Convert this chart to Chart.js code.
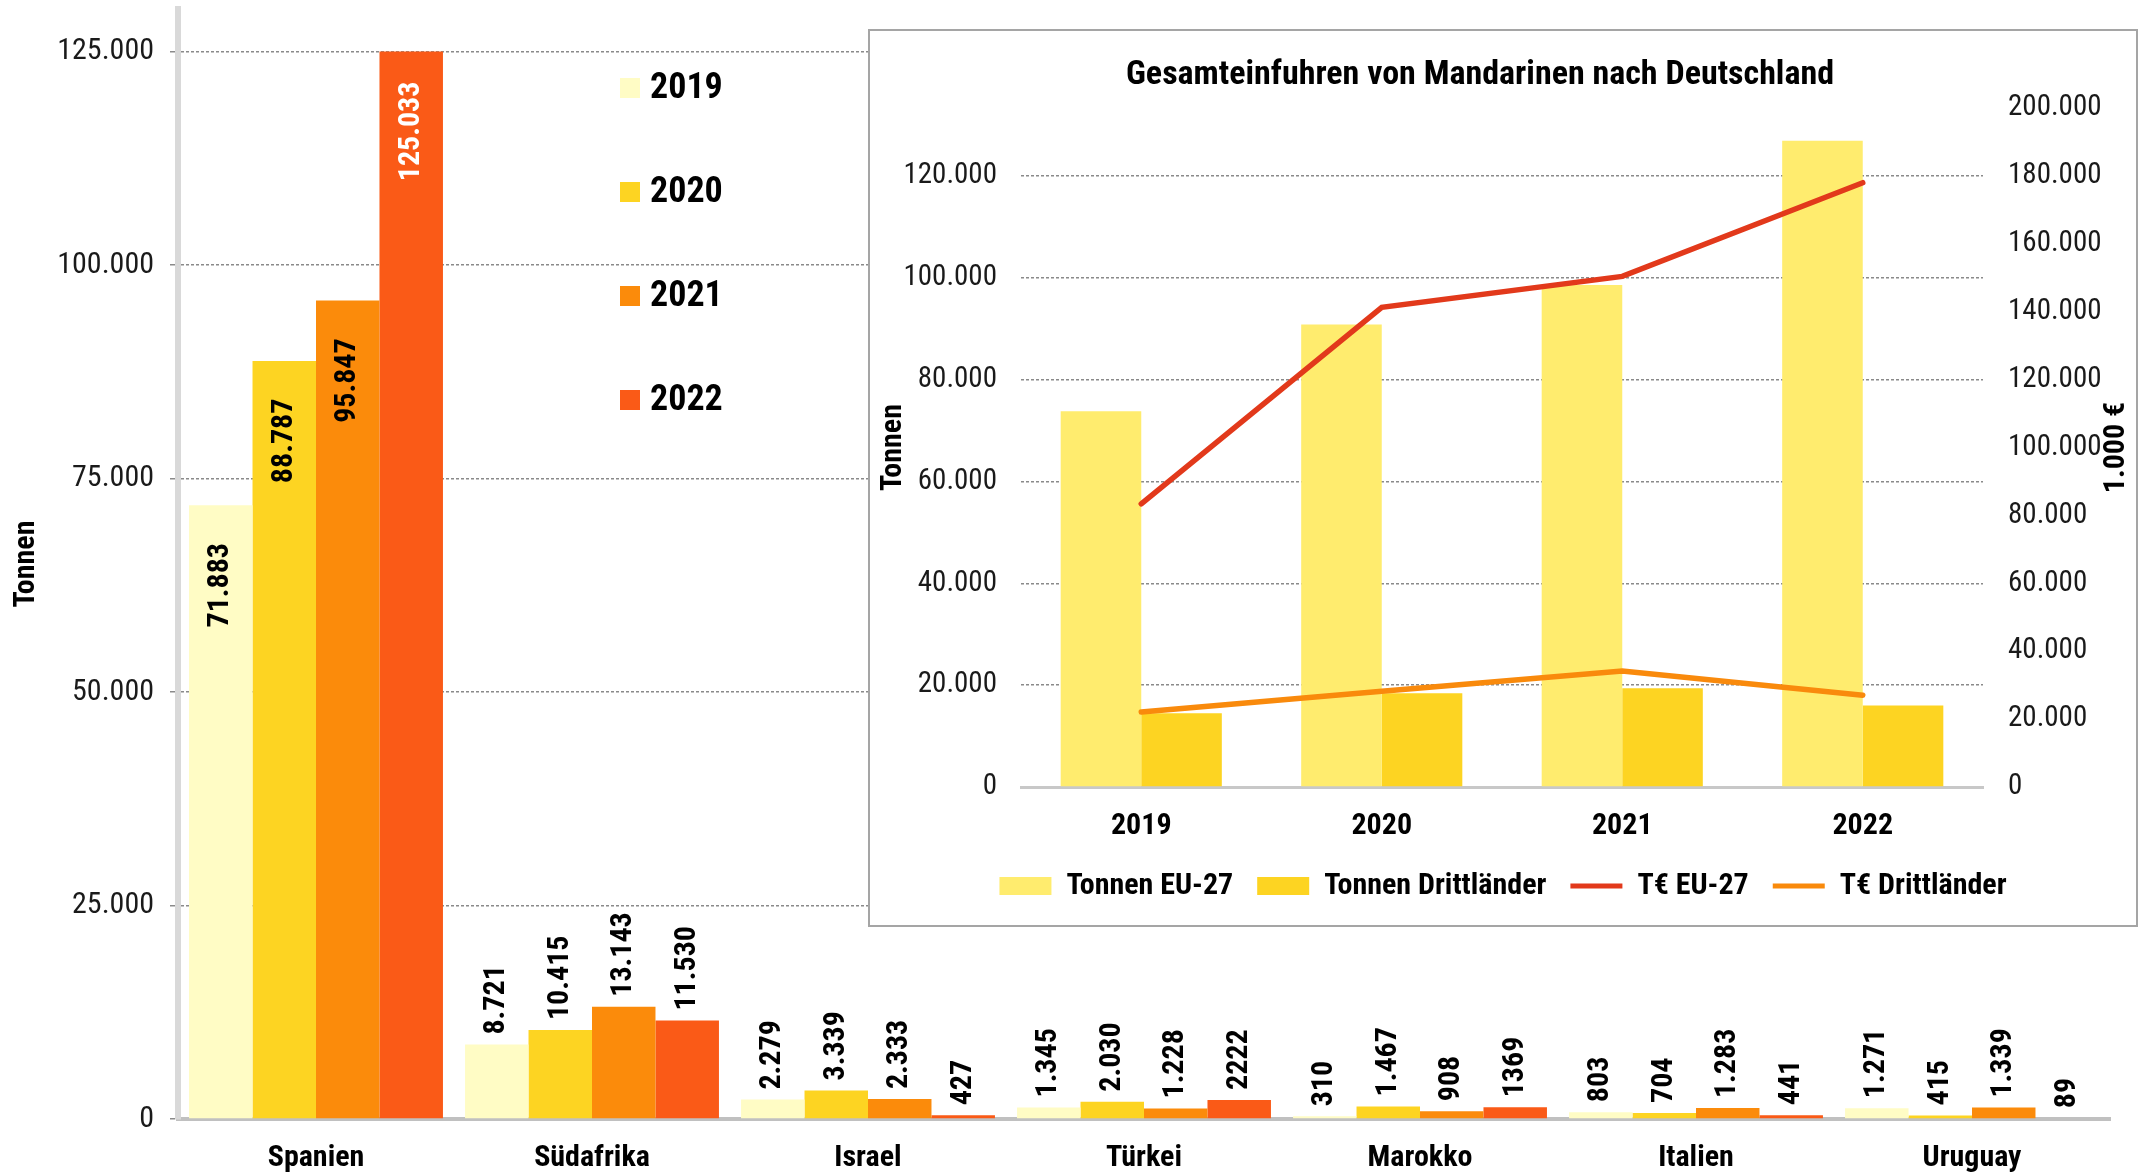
<!DOCTYPE html>
<html><head><meta charset="utf-8">
<script src="https://cdn.jsdelivr.net/npm/chart.js@4"></script>
<style>
html,body{margin:0;padding:0;background:#fff;width:2138px;height:1175px;overflow:hidden;}
#main{position:absolute;left:0;top:0;}
#insetBox{position:absolute;left:868px;top:29px;width:1266px;height:894px;border:2px solid #A5A5A5;background:#fff;}
#inset{display:block;}
</style></head><body>
<canvas id="main" width="2138" height="1175"></canvas>
<div id="insetBox"><canvas id="inset" width="1266" height="894"></canvas></div>
<script>
// ---------- data: main chart ----------
const countries = ['Spanien', 'Südafrika', 'Israel', 'Türkei', 'Marokko', 'Italien', 'Uruguay'];
const years = ['2019', '2020', '2021', '2022'];
const t2019 = [71883, 8721, 2279, 1345, 310, 803, 1271];
const t2020 = [88787, 10415, 3339, 2030, 1467, 704, 415];
const t2021 = [95847, 13143, 2333, 1228, 908, 1283, 1339];
const t2022 = [125033, 11530, 427, 2222, 1369, 441, 89];
const lbl2019 = ['71.883', '8.721', '2.279', '1.345', '310', '803', '1.271'];
const lbl2020 = ['88.787', '10.415', '3.339', '2.030', '1.467', '704', '415'];
const lbl2021 = ['95.847', '13.143', '2.333', '1.228', '908', '1.283', '1.339'];
const lbl2022 = ['125.033', '11.530', '427', '2222', '1369', '441', '89'];
const mainTicks = [0, 25000, 50000, 75000, 100000, 125000];

// ---------- data: inset chart ----------
const insetTitle = 'Gesamteinfuhren von Mandarinen nach Deutschland';
const insetYears = ['2019', '2020', '2021', '2022'];
const tonnenEU = [73800, 90800, 98600, 126900];
const tonnenDritt = [14500, 18400, 19400, 16000];
const euroEU = [83400, 141300, 150400, 178000];
const euroDritt = [22100, 28200, 34200, 27000];
const insetLeftTicks = [0, 20000, 40000, 60000, 80000, 100000, 120000];
const insetRightTicks = [0, 20000, 40000, 60000, 80000, 100000, 120000, 140000, 160000, 180000, 200000];

const NARROW = '"Liberation Sans Narrow", "Roboto Condensed", "DejaVu Sans Condensed", sans-serif';
const fmt = v => String(v).replace(/\B(?=(\d{3})+(?!\d))/g, '.');
const GRID = '#8a8a8a';

// ---------- main chart ----------
const mainColors = ['#FFFCC5', '#FDD422', '#FB8B0B', '#FA5A17'];
const mainLabels = [lbl2019, lbl2020, lbl2021, lbl2022];
const mainSeries = [t2019, t2020, t2021, t2022];

const valueLabelPlugin = {
  id: 'valueLabels',
  afterDatasetsDraw(chart) {
    const ctx = chart.ctx;
    ctx.save();
    ctx.font = 'bold 30px ' + NARROW;
    ctx.textBaseline = 'middle';
    chart.data.datasets.forEach((ds, di) => {
      const meta = chart.getDatasetMeta(di);
      meta.data.forEach((bar, i) => {
        const txt = mainLabels[di][i];
        ctx.save();
        ctx.translate(bar.x, bar.y);
        ctx.rotate(-Math.PI / 2);
        if (i === 0) {
          ctx.textAlign = 'center';
          ctx.fillStyle = di === 3 ? '#ffffff' : '#000000';
          ctx.fillText(txt, -80, 0);
        } else {
          ctx.textAlign = 'left';
          ctx.fillStyle = '#000000';
          ctx.fillText(txt, 10, 0);
        }
        ctx.restore();
      });
    });
    ctx.restore();
  }
};

const mainLegendPlugin = {
  id: 'mainLegend',
  afterDraw(chart) {
    const ctx = chart.ctx;
    ctx.save();
    ctx.font = 'bold 36px ' + NARROW;
    ctx.textBaseline = 'middle';
    ctx.textAlign = 'left';
    chart.data.datasets.forEach((ds, i) => {
      const cy = 88 + i * 104;
      ctx.fillStyle = ds.backgroundColor;
      ctx.fillRect(620, cy - 10, 20, 20);
      ctx.fillStyle = '#000';
      ctx.fillText(ds.label, 650, cy + 1);
    });
    ctx.restore();
  }
};

new Chart(document.getElementById('main'), {
  type: 'bar',
  data: {
    labels: countries,
    datasets: years.map((y, i) => ({
      label: y,
      data: mainSeries[i],
      backgroundColor: mainColors[i],
      borderWidth: 0,
      categoryPercentage: 0.92,
      barPercentage: 1.0
    }))
  },
  options: {
    responsive: false,
    animation: false,
    layout: { padding: { top: 9, right: 28, left: 0, bottom: 0 } },
    plugins: { legend: { display: false }, tooltip: { enabled: false }, title: { display: false } },
    scales: {
      x: {
        ticks: { font: { family: NARROW, size: 30, weight: 'bold' }, color: '#000', padding: 21 },
        grid: { display: false, drawTicks: false },
        border: { display: true, color: '#C0C0C0', width: 4 },
        afterFit: s => { s.height = 56; s.paddingLeft = 0; s.paddingRight = 0; }
      },
      y: {
        min: 0, max: 130000,
        afterBuildTicks: s => { s.ticks = mainTicks.map(v => ({ value: v })); },
        ticks: { callback: v => fmt(v), font: { family: NARROW, size: 30 }, color: '#1a1a1a', padding: 16 },
        grid: { color: GRID, lineWidth: 1.5, tickLength: 8, drawTicks: true },
        border: { display: true, color: '#D9D9D9', width: 6, dash: [3, 2] },
        title: { display: true, text: 'Tonnen', font: { family: NARROW, size: 30, weight: 'bold' }, color: '#000', padding: { top: 8, bottom: 0 } },
        afterFit: s => { s.width = 178; s.paddingTop = 0; s.paddingBottom = 0; }
      }
    }
  },
  plugins: [valueLabelPlugin, mainLegendPlugin]
});

// ---------- inset chart ----------
const insetTextPlugin = {
  id: 'insetText',
  afterDraw(chart) {
    const ctx = chart.ctx;
    const a = chart.chartArea;
    ctx.save();
    ctx.fillStyle = '#000';
    ctx.textAlign = 'center';
    ctx.textBaseline = 'middle';
    // title
    ctx.font = 'bold 34px ' + NARROW;
    ctx.fillText(insetTitle, 610, 44);
    // right axis title, reading bottom to top
    ctx.font = 'bold 30px ' + NARROW;
    ctx.translate(1246, (a.top + a.bottom) / 2);
    ctx.rotate(-Math.PI / 2);
    ctx.fillText('1.000 €', 0, 0);
    ctx.restore();
  }
};

new Chart(document.getElementById('inset'), {
  data: {
    labels: insetYears,
    datasets: [
      { type: 'bar', label: 'Tonnen EU-27', data: tonnenEU, backgroundColor: '#FFEC6E', borderWidth: 0, yAxisID: 'y', order: 2, categoryPercentage: 0.67, barPercentage: 1.0 },
      { type: 'bar', label: 'Tonnen Drittländer', data: tonnenDritt, backgroundColor: '#FDD422', borderWidth: 0, yAxisID: 'y', order: 2, categoryPercentage: 0.67, barPercentage: 1.0 },
      { type: 'line', label: 'T€ EU-27', data: euroEU, borderColor: '#E2391B', backgroundColor: '#E2391B', borderWidth: 5.5, pointRadius: 0, tension: 0, yAxisID: 'y2', order: 1, borderCapStyle: 'round' },
      { type: 'line', label: 'T€ Drittländer', data: euroDritt, borderColor: '#F98A0C', backgroundColor: '#F98A0C', borderWidth: 5.5, pointRadius: 0, tension: 0, yAxisID: 'y2', order: 1, borderCapStyle: 'round' }
    ]
  },
  options: {
    responsive: false,
    animation: false,
    layout: { padding: { top: 77, left: 0, right: 0, bottom: 14 } },
    plugins: {
      tooltip: { enabled: false },
      title: { display: false },
      legend: {
        position: 'bottom',
        labels: {
          usePointStyle: true, pointStyleWidth: 52, boxHeight: 18, padding: 24,
          font: { family: NARROW, size: 30, weight: 'bold' }, color: '#000',
          generateLabels: chart => chart.data.datasets.map((ds, i) => ({
            text: ds.label, datasetIndex: i, hidden: false, fontColor: '#000',
            fillStyle: ds.type === 'bar' ? ds.backgroundColor : ds.borderColor,
            strokeStyle: ds.type === 'bar' ? ds.backgroundColor : ds.borderColor,
            lineWidth: ds.type === 'bar' ? 0 : 5,
            pointStyle: ds.type === 'bar' ? 'rect' : 'line'
          }))
        }
      }
    },
    scales: {
      x: {
        ticks: { font: { family: NARROW, size: 30, weight: 'bold' }, color: '#000', padding: 21 },
        grid: { display: false, drawTicks: false },
        border: { display: true, color: '#C8C8C8', width: 3 },
        afterFit: s => { s.height = 60; s.paddingLeft = 0; s.paddingRight = 0; }
      },
      y: {
        position: 'left', min: 0, max: 133333,
        afterBuildTicks: s => { s.ticks = insetLeftTicks.map(v => ({ value: v })); },
        ticks: { callback: v => fmt(v), font: { family: NARROW, size: 29 }, color: '#1a1a1a', padding: 24 },
        grid: { color: GRID, lineWidth: 1.5, drawTicks: false },
        border: { display: false, dash: [3, 2] },
        title: { display: true, text: 'Tonnen', font: { family: NARROW, size: 30, weight: 'bold' }, color: '#000', padding: { top: 5, bottom: 0 } },
        afterFit: s => { s.width = 151; s.paddingTop = 0; s.paddingBottom = 0; }
      },
      y2: {
        position: 'right', min: 0, max: 200000,
        afterBuildTicks: s => { s.ticks = insetRightTicks.map(v => ({ value: v })); },
        ticks: { callback: v => fmt(v), font: { family: NARROW, size: 29 }, color: '#1a1a1a', padding: 25 },
        grid: { display: false, drawOnChartArea: false, drawTicks: false },
        border: { display: false },
        afterFit: s => { s.width = 153; s.paddingTop = 0; s.paddingBottom = 0; }
      }
    }
  },
  plugins: [insetTextPlugin]
});
</script>
</body></html>
